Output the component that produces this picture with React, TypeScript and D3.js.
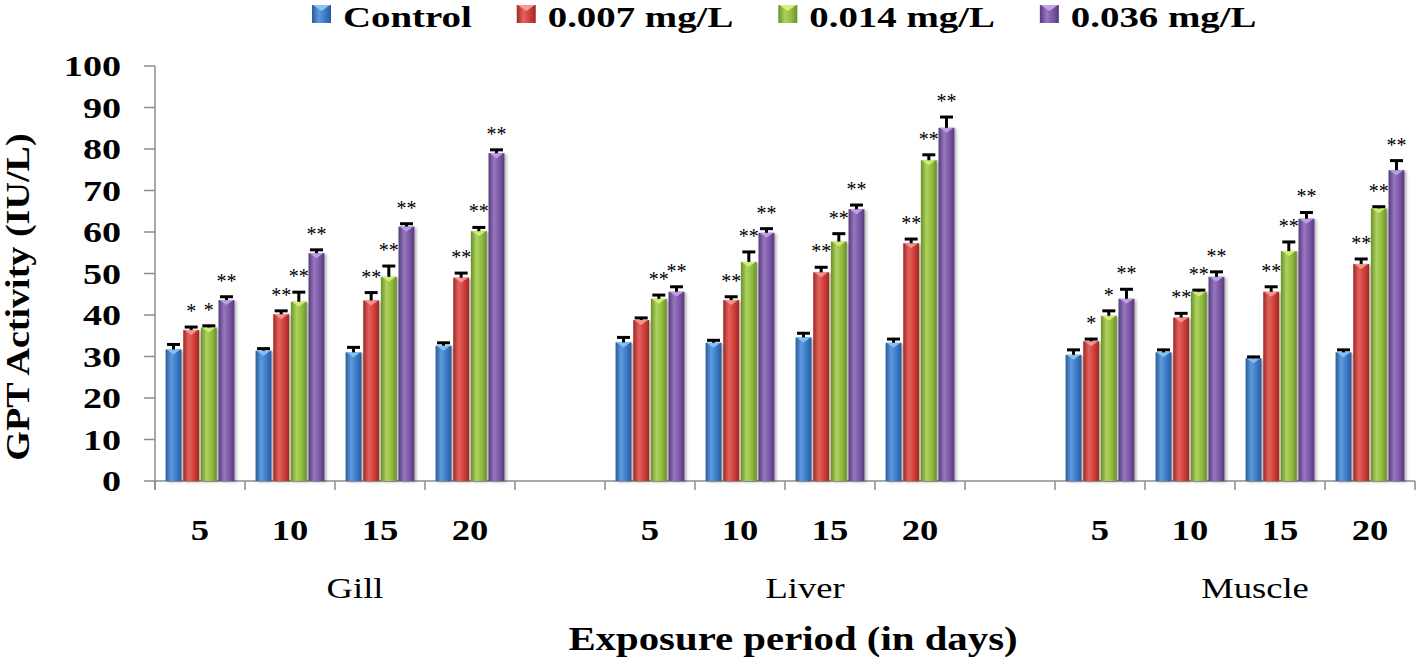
import React, { useEffect, useRef } from "react";
import * as d3 from "d3";

const organs = ["Gill", "Liver", "Muscle"];
const days = ["5", "10", "15", "20"];
const seriesNames = ["Control", "0.007 mg/L", "0.014 mg/L", "0.036 mg/L"];
const yTicks = [0, 10, 20, 30, 40, 50, 60, 70, 80, 90, 100];

// values ordered organ-major: Gill 5,10,15,20 | Liver 5..20 | Muscle 5..20
const controlVals = [31.7, 31.4, 31.0, 32.6, 33.4, 33.3, 34.6, 33.3, 30.4, 31.0, 29.6, 31.0];
const c007Vals = [36.4, 40.2, 43.5, 49.0, 38.8, 43.6, 50.3, 57.3, 33.7, 39.4, 45.6, 52.3];
const c014Vals = [37.0, 43.2, 49.2, 60.2, 43.9, 52.8, 57.7, 77.3, 39.8, 45.6, 55.4, 65.7];
const c036Vals = [43.6, 54.9, 61.3, 79.0, 45.6, 59.8, 65.5, 85.1, 43.9, 49.2, 63.2, 74.9];

const controlErr = [1.2, 0.5, 1.2, 0.7, 1.2, 0.6, 1.0, 0.9, 1.2, 0.6, 0.3, 0.6];
const c007Err = [0.7, 0.8, 1.9, 1.1, 0.5, 0.8, 1.2, 1.0, 0.5, 1.0, 1.2, 1.2];
const c014Err = [0.4, 2.3, 2.6, 0.9, 0.9, 2.4, 1.9, 1.3, 1.2, 0.4, 2.2, 0.4];
const c036Err = [0.8, 0.8, 0.7, 0.8, 1.2, 1.0, 1.0, 2.6, 2.3, 1.2, 1.5, 2.3];

const controlSig = ["", "", "", "", "", "", "", "", "", "", "", ""];
const c007Sig = ["*", "**", "**", "**", "", "**", "**", "**", "*", "**", "**", "**"];
const c014Sig = ["*", "**", "**", "**", "**", "**", "**", "**", "*", "**", "**", "**"];
const c036Sig = ["**", "**", "**", "**", "**", "**", "**", "**", "**", "**", "**", "**"];

const seriesValues = [controlVals, c007Vals, c014Vals, c036Vals];
const seriesErrors = [controlErr, c007Err, c014Err, c036Err];
const seriesSig = [controlSig, c007Sig, c014Sig, c036Sig];

const palette = [
  { dark: "#2a5a96", base: "#3b7ac6", light: "#5e9bde", tip: "#8cc4f4" },
  { dark: "#9c2925", base: "#cf3d38", light: "#e4625c", tip: "#f59a95" },
  { dark: "#6a8e2b", base: "#90bb3e", light: "#acd25d", tip: "#d6f07a" },
  { dark: "#553a7a", base: "#7b57a6", light: "#9677bf", tip: "#c3a3ea" },
];

const SERIF = '"Liberation Serif", "Times New Roman", Tinos, Times, serif';

export default function App() {
  const ref = useRef<SVGSVGElement>(null);

  useEffect(() => {
    const svg = d3.select(ref.current);
    svg.selectAll("*").remove();

    const left = 155, right = 1415, top = 66, bottom = 481;

    const slots: string[] = [];
    organs.forEach((o, i) => {
      days.forEach((d) => slots.push(`${o}|${d}`));
      if (i < organs.length - 1) slots.push(`gap${i}`);
    });

    const x = d3.scaleBand<string>().domain(slots).range([left, right]);
    const inner = d3
      .scaleBand<string>()
      .domain(seriesNames)
      .range([0, x.bandwidth()])
      .paddingInner(0.1)
      .paddingOuter(0.6);
    const y = d3.scaleLinear().domain([0, 100]).range([bottom, top]);

    const defs = svg.append("defs");
    palette.forEach((p, i) => {
      const g = defs
        .append("linearGradient")
        .attr("id", `grad${i}`)
        .attr("x1", "0%")
        .attr("x2", "100%")
        .attr("y1", "0%")
        .attr("y2", "0%");
      g.append("stop").attr("offset", "0%").attr("stop-color", p.dark);
      g.append("stop").attr("offset", "35%").attr("stop-color", p.light);
      g.append("stop").attr("offset", "70%").attr("stop-color", p.base);
      g.append("stop").attr("offset", "100%").attr("stop-color", p.dark);
    });
    const f = defs.append("filter").attr("id", "shadow").attr("x", "-30%").attr("y", "-5%").attr("width", "160%").attr("height", "110%");
    f.append("feDropShadow").attr("dx", 2).attr("dy", 1).attr("stdDeviation", 1.5).attr("flood-color", "#000").attr("flood-opacity", 0.3);

    const stretchText = (
      parent: any,
      px: number,
      py: number,
      txt: string,
      opts: { size: number; weight?: string; sx?: number; sy?: number; anchor?: string; rotate?: number }
    ) => {
      const { size, weight = "bold", sx = 1, sy = 1, anchor = "middle", rotate = 0 } = opts;
      return parent
        .append("text")
        .attr("transform", `translate(${px},${py}) rotate(${rotate}) scale(${sx},${sy})`)
        .attr("text-anchor", anchor)
        .style("font-family", SERIF)
        .style("font-size", `${size}px`)
        .style("font-weight", weight)
        .attr("fill", "#000")
        .text(txt);
    };

    // Y axis
    const axisColor = "#8c8c8c";
    svg.append("line").attr("x1", left).attr("x2", left).attr("y1", top).attr("y2", bottom + 9).attr("stroke", axisColor).attr("stroke-width", 1.5);
    yTicks.forEach((t) => {
      svg.append("line").attr("x1", left - 11).attr("x2", left).attr("y1", y(t)).attr("y2", y(t)).attr("stroke", axisColor).attr("stroke-width", 1.5);
      stretchText(svg, 121, y(t) + 10, String(t), { size: 30, sx: 1.27, anchor: "end" });
    });

    // X axis
    svg.append("line").attr("x1", left).attr("x2", right).attr("y1", bottom).attr("y2", bottom).attr("stroke", axisColor).attr("stroke-width", 1.5);
    const boundaries = slots.map((s) => x(s) as number).concat([right]);
    boundaries.forEach((b) => {
      svg.append("line").attr("x1", b).attr("x2", b).attr("y1", bottom).attr("y2", bottom + 9).attr("stroke", axisColor).attr("stroke-width", 1.5);
    });

    // Bars
    const barsG = svg.append("g");
    const errG = svg.append("g");
    const sigG = svg.append("g");
    let idx = 0;
    organs.forEach((o) => {
      days.forEach((d) => {
        const slot = `${o}|${d}`;
        const x0 = x(slot) as number;
        seriesNames.forEach((s, si) => {
          const v = seriesValues[si][idx];
          const e = seriesErrors[si][idx];
          const sig = seriesSig[si][idx];
          const bx = x0 + (inner(s) as number);
          const bw = inner.bandwidth();
          const yt = y(v);
          barsG
            .append("rect")
            .attr("x", bx)
            .attr("y", yt)
            .attr("width", bw)
            .attr("height", y(0) - yt)
            .attr("fill", `url(#grad${si})`)
            .attr("filter", "url(#shadow)");
          barsG
            .append("path")
            .attr("d", `M${bx + 1},${yt} L${bx + bw - 1},${yt} L${bx + bw / 2},${yt + 5} Z`)
            .attr("fill", palette[si].tip)
            .attr("opacity", 0.9);
          const ye = y(v + e);
          const cx = bx + bw / 2;
          errG.append("line").attr("x1", cx).attr("x2", cx).attr("y1", yt).attr("y2", ye).attr("stroke", "#000").attr("stroke-width", 3);
          errG.append("line").attr("x1", cx - 6.5).attr("x2", cx + 6.5).attr("y1", ye).attr("y2", ye).attr("stroke", "#000").attr("stroke-width", 3);
          if (sig) {
            sigG
              .append("text")
              .attr("x", cx)
              .attr("y", ye - 9)
              .attr("text-anchor", "middle")
              .style("font-family", SERIF)
              .style("font-size", "20px")
              .attr("fill", "#000")
              .text(sig);
          }
        });
        stretchText(svg, x0 + x.bandwidth() / 2, 540, d, { size: 30, sx: 1.22, anchor: "middle" });
        idx++;
      });
      const first = x(`${o}|${days[0]}`) as number;
      const last = (x(`${o}|${days[days.length - 1]}`) as number) + x.bandwidth();
      stretchText(svg, (first + last) / 2 + 20, 598, o, { size: 30, weight: "normal", sx: 1.22, anchor: "middle" });
    });

    // Axis titles
    stretchText(svg, 793, 650, "Exposure period (in days)", { size: 34, sx: 1.2, anchor: "middle" });
    stretchText(svg, 29, 297, "GPT Activity (IU/L)", { size: 30, sx: 1.27, sy: 1.12, anchor: "middle", rotate: -90 });

    // Legend
    const legend = svg.append("g");
    let lx = 312;
    seriesNames.forEach((s, si) => {
      legend.append("rect").attr("x", lx).attr("y", 5).attr("width", 19).attr("height", 18).attr("fill", `url(#grad${si})`);
      legend
        .append("path")
        .attr("d", `M${lx + 1},5 L${lx + 18},5 L${lx + 9.5},11 Z`)
        .attr("fill", palette[si].tip);
      const t = stretchText(legend, lx + 31, 27, s, { size: 29, sx: 1.34, anchor: "start" });
      const w = (t.node() as SVGTextElement).getComputedTextLength() * 1.34;
      lx = lx + 31 + w + 45;
    });
  }, []);

  return (
    <div style={{ position: "absolute", left: 0, top: 0 }}>
      <svg ref={ref} width={1418} height={661} style={{ display: "block", background: "#fff" }} />
    </div>
  );
}
